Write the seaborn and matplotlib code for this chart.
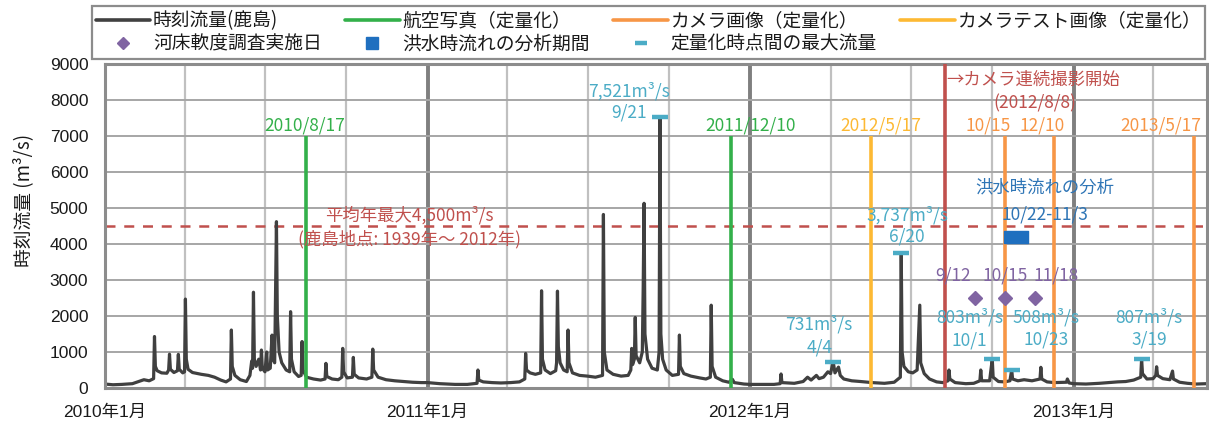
import matplotlib
matplotlib.use("Agg")
import matplotlib.pyplot as plt
import matplotlib.dates as mdates
import matplotlib.transforms as mtransforms
from matplotlib.lines import Line2D
import numpy as np
import pandas as pd
import seaborn as sns

# ---------------- data (hourly discharge at Kashima) ----------------
flow_2010_days = [
    "01-01", "01-10", "01-20", "02-01", "02-08", "02-14", "02-20", "02-25",
    "02-26", "02-27", "03-01", "03-06", "03-12", "03-14", "03-15", "03-16",
    "03-20", "03-24", "03-25", "03-26", "03-30", "04-01", "04-02", "04-03",
    "04-05", "04-10", "04-20", "04-28", "05-05", "05-12", "05-18", "05-23",
    "05-24", "05-25", "05-28", "06-03", "06-10", "06-14", "06-16", "06-17",
    "06-18", "06-19", "06-21", "06-24", "06-26", "06-27", "06-28", "07-01",
    "07-03", "07-04", "07-07", "07-09", "07-10", "07-12", "07-14", "07-15",
    "07-17", "07-20", "07-25", "07-29", "07-30", "07-31", "08-03", "08-08",
    "08-11", "08-12", "08-13", "08-17", "08-25", "09-02", "09-07", "09-08",
    "09-09", "09-15", "09-22", "09-26", "09-27", "09-28", "10-02", "10-08",
    "10-09", "10-10", "10-15", "10-24", "10-30", "10-31", "11-01", "11-06",
    "11-15", "11-25", "12-05", "12-15", "12-25",
]
flow_2010_values = [
    110, 90, 100, 120, 180, 230, 200, 260,
    1430, 600, 480, 420, 410, 500, 940, 520,
    430, 480, 935, 520, 420, 450, 2470, 800,
    520, 430, 380, 350, 300, 220, 170, 250,
    1610, 600, 350, 230, 180, 350, 750, 550,
    2660, 800, 600, 800, 500, 1055, 550, 450,
    1000, 500, 550, 1470, 800, 700, 4620, 2000,
    1000, 700, 500, 450, 2120, 800, 450, 320,
    350, 1290, 500, 300, 250, 220, 250, 685,
    320, 250, 230, 300, 1100, 450, 280, 300,
    850, 380, 280, 250, 300, 1080, 500, 300,
    230, 200, 180, 160, 150,
]
flow_2011_days = [
    "01-01", "01-15", "02-01", "02-15", "02-26", "02-27", "02-28", "03-05",
    "03-15", "03-25", "04-05", "04-15", "04-21", "04-22", "04-23", "04-27",
    "05-03", "05-09", "05-10", "05-11", "05-14", "05-20", "05-26", "05-27",
    "05-28", "05-29", "05-31", "06-04", "06-08", "06-09", "06-10", "06-14",
    "06-22", "07-01", "07-10", "07-18", "07-19", "07-20", "07-23", "07-30",
    "08-08", "08-16", "08-19", "08-20", "08-21", "08-23", "08-24", "08-25",
    "08-29", "09-01", "09-02", "09-03", "09-04", "09-07", "09-12", "09-18",
    "09-20", "09-21", "09-22", "09-24", "09-28", "10-05", "10-12", "10-13",
    "10-14", "10-18", "10-26", "11-05", "11-12", "11-17", "11-18", "11-19",
    "11-23", "12-01", "12-08", "12-12", "12-14", "12-25",
]
flow_2011_values = [
    150, 120, 100, 100, 130, 500, 220, 170,
    150, 140, 150, 170, 250, 960, 500, 420,
    380, 420, 2700, 800, 500, 400, 480, 700,
    2690, 1150, 700, 500, 450, 1610, 700, 420,
    350, 330, 300, 350, 4820, 1000, 500, 380,
    330, 350, 500, 1100, 650, 800, 1960, 900,
    700, 1000, 2770, 5130, 1500, 800, 550, 500,
    1000, 7521, 1500, 800, 500, 350, 380, 1470,
    600, 400, 330, 280, 250, 300, 2300, 600,
    300, 200, 160, 240, 150, 110,
]
flow_2012_days = [
    "01-01", "01-15", "01-28", "02-04", "02-05", "02-06", "02-20", "03-01",
    "03-06", "03-10", "03-16", "03-19", "03-24", "03-29", "04-01", "04-04",
    "04-06", "04-10", "04-12", "04-16", "04-25", "05-05", "05-18", "06-01",
    "06-12", "06-19", "06-20", "06-21", "06-23", "06-28", "07-03", "07-08",
    "07-11", "07-12", "07-16", "07-22", "07-30", "08-06", "08-12", "08-13",
    "08-14", "08-20", "09-01", "09-10", "09-17", "09-18", "09-19", "09-28",
    "10-01", "10-02", "10-08", "10-15", "10-21", "10-23", "10-24", "10-30",
    "11-06", "11-15", "11-24", "11-25", "11-26", "12-02", "12-10", "12-24",
    "12-25", "12-27",
]
flow_2012_values = [
    100, 100, 100, 120, 390, 150, 130, 180,
    300, 220, 350, 260, 300, 450, 400, 731,
    420, 580, 350, 250, 200, 180, 150, 130,
    160, 300, 3737, 1000, 600, 450, 420, 500,
    2300, 700, 400, 250, 170, 150, 200, 500,
    250, 150, 120, 130, 200, 500, 200, 200,
    803, 300, 180, 170, 200, 508, 250, 200,
    230, 200, 250, 575, 250, 170, 150, 160,
    250, 140,
]
flow_2013_days = [
    "01-01", "01-15", "01-30", "02-10", "02-20", "03-01", "03-10", "03-18",
    "03-19", "03-20", "03-25", "04-01", "04-04", "04-05", "04-06", "04-12",
    "04-20", "04-23", "04-24", "05-01", "05-10", "05-20", "05-31",
]
flow_2013_values = [
    120, 110, 130, 150, 170, 180, 220, 300,
    807, 400, 250, 260, 350, 590, 350, 260,
    230, 470, 250, 160, 130, 110, 120,
]

aerial_dates = ["2010-08-17", "2011-12-10"]
aerial_labels = ["2010/8/17", "2011/12/10"]
test_dates = ["2012-05-17"]
test_labels = ["2012/5/17"]
camera_dates = ["2012-10-15", "2012-12-10", "2013-05-17"]
camera_labels = ["10/15", "12/10", "2013/5/17"]
event_line_top = 7000

camera_start_date = "2012-08-08"
camera_start_labels = ["→カメラ連続撮影開始", "(2012/8/8)"]

survey_dates = ["2012-09-12", "2012-10-15", "2012-11-18"]
survey_labels = ["9/12", "10/15", "11/18"]
survey_level = 2500

flood_period_mid = "2012-10-28"
flood_level = 4200
flood_labels = ["洪水時流れの分析", "10/22-11/3"]

peak_dates = ["2011-09-21", "2012-04-04", "2012-06-20", "2012-10-01", "2012-10-23", "2013-03-19"]
peak_values = [7521, 731, 3737, 803, 508, 807]
peak_date_labels = ["9/21", "4/4", "6/20", "10/1", "10/23", "3/19"]

mean_annual_max = 4500
mean_labels = ["平均年最大4,500m³/s", "(鹿島地点: 1939年～ 2012年)"]

year_ticks = ["2010-01-01", "2011-01-01", "2012-01-01", "2013-01-01"]
year_tick_labels = ["2010年1月", "2011年1月", "2012年1月", "2013年1月"]
x_range = ["2010-01-01", "2013-06-01"]
y_ticks = [0, 1000, 2000, 3000, 4000, 5000, 6000, 7000, 8000, 9000]

legend_labels = ["時刻流量(鹿島)", "河床軟度調査実施日", "航空写真（定量化）", "洪水時流れの分析期間",
                 "カメラ画像（定量化）", "定量化時点間の最大流量", "カメラテスト画像（定量化）"]

# ---------------- style ----------------
C_FLOW = "#404040"
C_GREEN = "#33B04A"
C_YELLOW = "#FDB933"
C_ORANGE = "#F79646"
C_RED = "#C0504D"
C_CYAN = "#4BACC6"
C_PURPLE = "#8064A2"
C_BLUE = "#1F6FBF"
C_BLUE_TXT = "#2E75B6"

sns.set_theme(style="white")
plt.rcParams["font.family"] = ["Liberation Sans", "Noto Sans CJK JP"]
ANN_FONT = ["Noto Sans CJK JP", "DejaVu Sans"]
ANN_SIZE = 12.5

frames = []
for year, days, vals in [(2010, flow_2010_days, flow_2010_values), (2011, flow_2011_days, flow_2011_values),
                         (2012, flow_2012_days, flow_2012_values), (2013, flow_2013_days, flow_2013_values)]:
    assert len(days) == len(vals), year
    frames.append(pd.DataFrame({"date": pd.to_datetime([f"{year}-{d}" for d in days]), "flow": vals}))
df = pd.concat(frames, ignore_index=True)

fig = plt.figure(figsize=(12.09, 4.25), dpi=100)
ax = fig.add_axes([105 / 1209, 1 - 388 / 425, 1102 / 1209, 324 / 425])

# grid
ax.set_ylim(0, 9000)
ax.set_xlim(pd.to_datetime(x_range[0]), pd.to_datetime(x_range[1]))
ax.set_yticks(y_ticks)
ax.set_yticklabels([str(v) for v in y_ticks])
ax.set_xticks(pd.to_datetime(year_ticks))
ax.set_xticklabels(year_tick_labels)
ax.xaxis.set_minor_locator(mdates.MonthLocator(bymonth=[4, 7, 10]))
ax.grid(axis="y", which="major", color="#A6A6A6", lw=1.4, zorder=0)
ax.grid(axis="x", which="major", color="#7F7F7F", lw=2.8, zorder=0)
ax.grid(axis="x", which="minor", color="#C0C0C0", lw=1.6, zorder=0)
ax.set_axisbelow(True)
ax.tick_params(axis="both", which="both", length=0, labelsize=12.5, colors="#1a1a1a")
ax.tick_params(axis="y", pad=12)
ax.tick_params(axis="x", pad=12)
for sp in ax.spines.values():
    sp.set_color("#8C8C8C")
    sp.set_linewidth(2.2)

# mean annual max line
ax.axhline(mean_annual_max, color=C_RED, lw=1.8, ls=(0, (4, 3.5)), zorder=1.5)

# flow series
sns.lineplot(data=df, x="date", y="flow", ax=ax, color=C_FLOW, lw=2.3, estimator=None,
             zorder=2.5, legend=False)
ax.set_xlabel("")
ax.set_ylabel("時刻流量 (m³/s)", fontsize=13.5, family=ANN_FONT, color="#1a1a1a")
ax.yaxis.set_label_coords(-0.064, 0.58)

# event lines
def vlines(dates, color, top):
    ax.vlines(pd.to_datetime(dates), 0, top, color=color, lw=2.6, zorder=3)

vlines(aerial_dates, C_GREEN, event_line_top)
vlines(test_dates, C_YELLOW, event_line_top)
vlines(camera_dates, C_ORANGE, event_line_top)
vlines([camera_start_date], C_RED, 9000)

def label_event(dates, labels, color, dxs):
    for d, t, dx in zip(dates, labels, dxs):
        ax.annotate(t, xy=(pd.to_datetime(d), event_line_top), xytext=(dx, 11),
                    textcoords="offset pixels", ha="center", va="center",
                    color=color, fontsize=ANN_SIZE, family=ANN_FONT, zorder=5)

label_event(aerial_dates, aerial_labels, C_GREEN, [-2, 20])
label_event(test_dates, test_labels, C_YELLOW, [10])
label_event(camera_dates, camera_labels, C_ORANGE, [-17, -12, -33])

cs = pd.to_datetime(camera_start_date)
ax.annotate(camera_start_labels[0], xy=(cs, 9000), xytext=(2, -16), textcoords="offset pixels",
            ha="left", va="center", color=C_RED, fontsize=ANN_SIZE, family=ANN_FONT, zorder=5)
ax.annotate(camera_start_labels[1], xy=(cs, 9000), xytext=(90, -39), textcoords="offset pixels",
            ha="center", va="center", color=C_RED, fontsize=ANN_SIZE, family=ANN_FONT, zorder=5)

# mean line labels
trans = mtransforms.blended_transform_factory(ax.transAxes, ax.transData)
ax.annotate(mean_labels[0], xy=(0.276, mean_annual_max), xycoords=trans, xytext=(0, 11),
            textcoords="offset pixels", ha="center", va="center", color=C_RED,
            fontsize=ANN_SIZE, family=ANN_FONT)
ax.annotate(mean_labels[1], xy=(0.276, mean_annual_max), xycoords=trans, xytext=(0, -13.5),
            textcoords="offset pixels", ha="center", va="center", color=C_RED,
            fontsize=ANN_SIZE, family=ANN_FONT)

# survey diamonds
sdf = pd.DataFrame({"date": pd.to_datetime(survey_dates), "v": [survey_level] * len(survey_dates)})
ax.plot(sdf["date"], sdf["v"], ls="none", marker="D", ms=7.5, color=C_PURPLE, zorder=4)
for d, t, dx in zip(survey_dates, survey_labels, [-22, 0, 21]):
    ax.annotate(t, xy=(pd.to_datetime(d), survey_level), xytext=(dx, 23), textcoords="offset pixels",
                ha="center", va="center", color=C_PURPLE, fontsize=ANN_SIZE, family=ANN_FONT, zorder=5)

# flood analysis period
rect_marker = [(-1, -0.5), (1, -0.5), (1, 0.5), (-1, 0.5), (-1, -0.5)]
ax.plot([pd.to_datetime(flood_period_mid)], [flood_level], ls="none", marker=rect_marker, ms=17,
        color=C_BLUE, zorder=4)
fm = pd.to_datetime(flood_period_mid)
ax.annotate(flood_labels[0], xy=(fm, flood_level), xytext=(29, 49), textcoords="offset pixels",
            ha="center", va="center", color=C_BLUE_TXT, fontsize=ANN_SIZE, family=ANN_FONT, zorder=5)
ax.annotate(flood_labels[1], xy=(fm, flood_level), xytext=(29, 22.5), textcoords="offset pixels",
            ha="center", va="center", color=C_BLUE_TXT, fontsize=ANN_SIZE, family=ANN_FONT, zorder=5)

# peak markers
pdates = pd.to_datetime(peak_dates)
ax.plot(pdates, peak_values, ls="none", marker="_", ms=11, mew=3.2, color=C_CYAN, zorder=4)
peak_offsets = [(-31, 26, 5), (-14, 37, 14), (6, 38.5, 16.5), (-23, 41.5, 19), (34, 52, 30), (7.5, 41.5, 19)]
for d, v, t, (dx, dy1, dy2) in zip(pdates, peak_values, peak_date_labels, peak_offsets):
    ax.annotate(f"{v:,}m³/s", xy=(d, v), xytext=(dx, dy1), textcoords="offset pixels",
                ha="center", va="center", color=C_CYAN, fontsize=ANN_SIZE, family=ANN_FONT, zorder=5)
    ax.annotate(t, xy=(d, v), xytext=(dx, dy2), textcoords="offset pixels",
                ha="center", va="center", color=C_CYAN, fontsize=ANN_SIZE, family=ANN_FONT, zorder=5)

# legend
handles = [
    Line2D([], [], color=C_FLOW, lw=2.6),
    Line2D([], [], ls="none", marker="D", ms=6.5, color=C_PURPLE),
    Line2D([], [], color=C_GREEN, lw=2.6),
    Line2D([], [], ls="none", marker="s", ms=9, color=C_BLUE),
    Line2D([], [], color=C_ORANGE, lw=2.6),
    Line2D([], [], ls="none", marker="_", ms=9, mew=3.2, color=C_CYAN),
    Line2D([], [], color=C_YELLOW, lw=2.6),
]
leg = fig.legend(handles, legend_labels, ncol=4, loc="center",
                 bbox_to_anchor=(92 / 1209, 1 - 58 / 425, 1113 / 1209, 51 / 425), mode="expand",
                 borderaxespad=0, frameon=True, fancybox=False, framealpha=1, edgecolor="#8C8C8C",
                 handlelength=2.9, handletextpad=0.15, labelspacing=0.15, borderpad=0.2,
                 prop={"family": ANN_FONT, "size": 13.5})
leg.get_frame().set_linewidth(1.6)
for t in leg.get_texts():
    t.set_color("#1a1a1a")

fig.savefig("out.png", dpi=100)
